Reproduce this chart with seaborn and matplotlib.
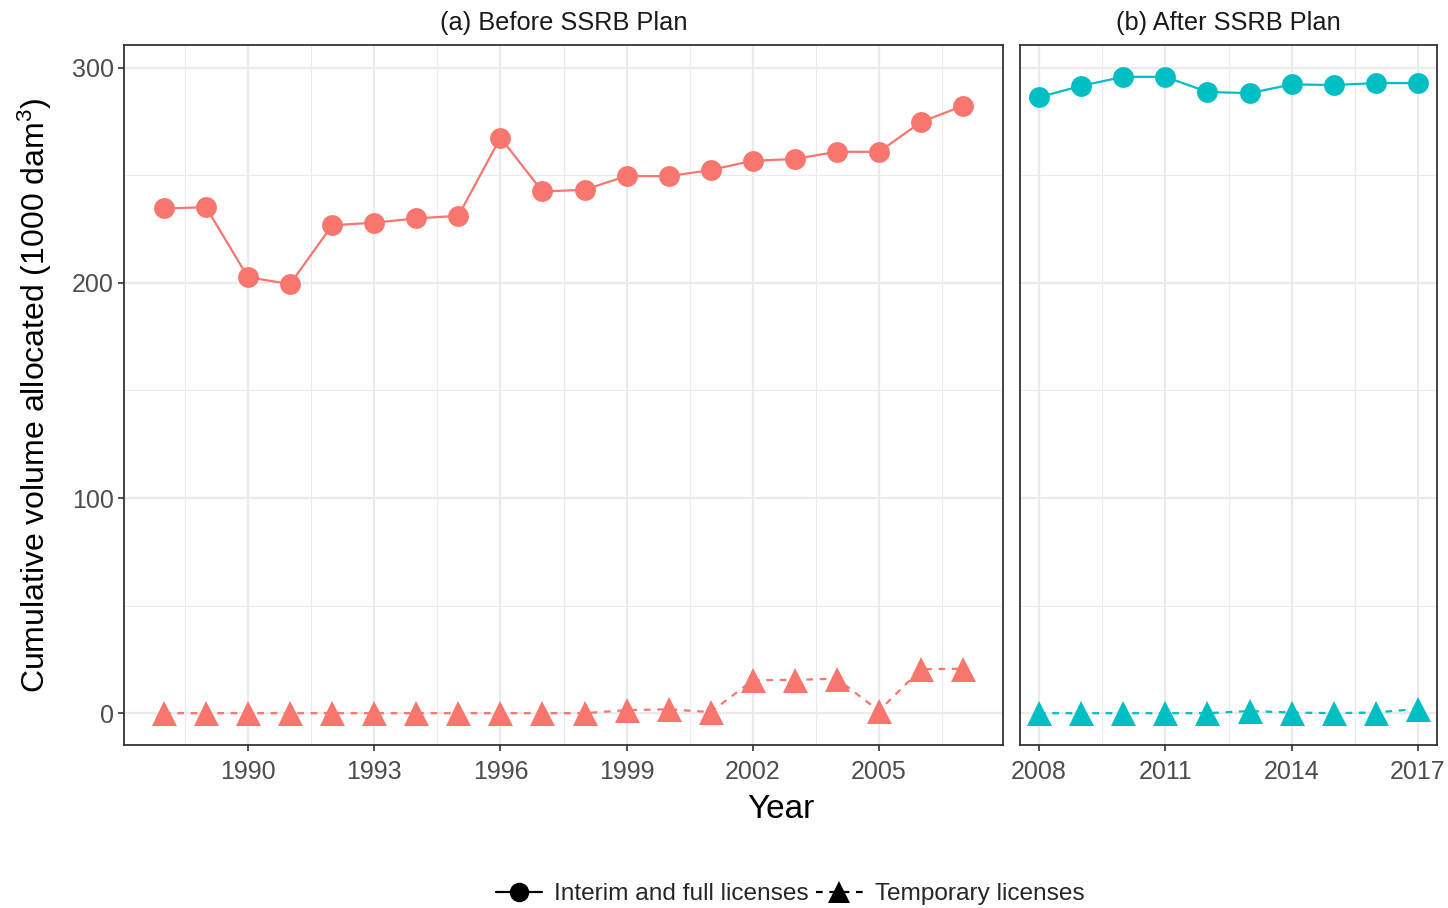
import matplotlib
matplotlib.use("Agg")
import matplotlib.pyplot as plt
from matplotlib.lines import Line2D
from matplotlib.ticker import MultipleLocator, FixedLocator
import numpy as np
import pandas as pd
import seaborn as sns

# ---- data -------------------------------------------------------------
years_before = list(range(1988, 2008))
full_before = [234.6, 235.2, 202.6, 199.5, 226.8, 228.0, 230.0, 231.2, 267.5, 242.5,
               243.3, 249.7, 249.6, 252.5, 256.8, 257.6, 261.0, 260.9, 274.8, 282.3]
temp_before = [0.0, 0.0, 0.0, 0.0, 0.0, 0.0, 0.0, 0.0, 0.0, 0.0,
               0.0, 1.4, 1.8, 0.5, 15.3, 15.5, 16.0, 1.1, 20.4, 20.7]

years_after = list(range(2008, 2018))
full_after = [286.3, 291.6, 295.8, 295.8, 288.8, 288.2, 292.3, 292.0, 292.9, 292.9]
temp_after = [0.0, 0.0, 0.0, 0.0, 0.0, 1.0, 0.3, 0.0, 0.3, 2.0]

type_labels = ["Interim and full licenses", "Temporary licenses"]
panel_titles = ["(a) Before SSRB Plan", "(b) After SSRB Plan"]
panel_colors = ["#F8766D", "#00BFC4"]


def long_frame(years, full, temp):
    return pd.DataFrame({
        "Year": years + years,
        "Volume": full + temp,
        "Type": [type_labels[0]] * len(years) + [type_labels[1]] * len(years),
    })


frames = [long_frame(years_before, full_before, temp_before),
          long_frame(years_after, full_after, temp_after)]

# ---- style ------------------------------------------------------------
sns.set_theme(style="white")
plt.rcParams["font.family"] = ["Liberation Sans", "DejaVu Sans"]
plt.rcParams["mathtext.fontset"] = "custom"
plt.rcParams["mathtext.rm"] = "Liberation Sans"
plt.rcParams["mathtext.it"] = "Liberation Sans"
plt.rcParams["mathtext.default"] = "regular"

W, H = 1448, 908
fig = plt.figure(figsize=(W / 100, H / 100), dpi=100)


def px_axes(left, right, top, bottom):
    return fig.add_axes([left / W, 1 - bottom / H, (right - left) / W, (bottom - top) / H])


ax_a = px_axes(124, 1003, 45, 745)
ax_b = px_axes(1020, 1437, 45, 745)

markers = {type_labels[0]: "o", type_labels[1]: "^"}
dashes = {type_labels[0]: "", type_labels[1]: (3, 3)}

ylim = (-14.8, 310.6)
xlims = [(1987.05, 2007.95), (2007.55, 2017.45)]
major_x = [[1990, 1993, 1996, 1999, 2002, 2005], [2008, 2011, 2014, 2017]]

TICK_FS = 18

for ax, df, color, title, xl, mx in zip([ax_a, ax_b], frames, panel_colors,
                                         panel_titles, xlims, major_x):
    sns.lineplot(data=df, x="Year", y="Volume", style="Type",
                 markers=markers, dashes=dashes, color=color,
                 markersize=15, markeredgewidth=0, linewidth=1.6,
                 legend=False, ax=ax, zorder=3)
    # triangles read a little larger than the circles
    for ln in ax.lines:
        if ln.get_marker() == "^":
            ln.set_markersize(18)
    ax.set_xlim(*xl)
    ax.set_ylim(*ylim)
    ax.xaxis.set_major_locator(FixedLocator(mx))
    minor = [m + 1.5 for m in [mx[0] - 3] + mx]
    ax.xaxis.set_minor_locator(FixedLocator([m for m in minor if xl[0] < m < xl[1]]))
    ax.yaxis.set_major_locator(MultipleLocator(100))
    ax.yaxis.set_minor_locator(MultipleLocator(50))
    ax.grid(which="major", color="#EBEBEB", linewidth=1.6, zorder=0)
    ax.grid(which="minor", color="#EBEBEB", linewidth=0.8, zorder=0)
    ax.set_axisbelow(True)
    for sp in ax.spines.values():
        sp.set_visible(True)
        sp.set_color("#333333")
        sp.set_linewidth(1.3)
    ax.tick_params(axis="both", which="major", direction="out", length=4.5,
                   width=1.2, color="#333333", labelsize=TICK_FS,
                   labelcolor="#4D4D4D", pad=3, bottom=True, left=True)
    ax.tick_params(axis="x", which="major", pad=6)
    ax.tick_params(axis="both", which="minor", length=0)
    ax.set_xlabel("")
    ax.set_ylabel("")
    ax.set_title(title, fontsize=18.3, color="#1A1A1A", pad=11)

ax_b.tick_params(axis="y", which="both", left=False, labelleft=False)
ax_a.set_yticks([0, 100, 200, 300])

fig.text(781 / W, 1 - 809 / H, "Year", ha="center", va="center",
         fontsize=24, color="black")
fig.text(35 / W, 1 - 395 / H, "Cumulative volume allocated (1000 dam$^{3}$)",
         ha="center", va="center", rotation=90, fontsize=23, color="black")

handles = [
    Line2D([], [], color="black", linestyle="-", linewidth=1.6,
           marker="o", markersize=14, markeredgewidth=0),
    Line2D([], [], color="black", linestyle=(0, (3, 3)), linewidth=1.6,
           marker="^", markersize=16, markeredgewidth=0),
]
fig.legend(handles, type_labels, loc="center", bbox_to_anchor=(790 / W, 1 - 894 / H),
           ncol=2, frameon=False, fontsize=17.6, handlelength=1.9,
           handletextpad=0.5, columnspacing=0.3)

fig.savefig("out.png", dpi=100)
